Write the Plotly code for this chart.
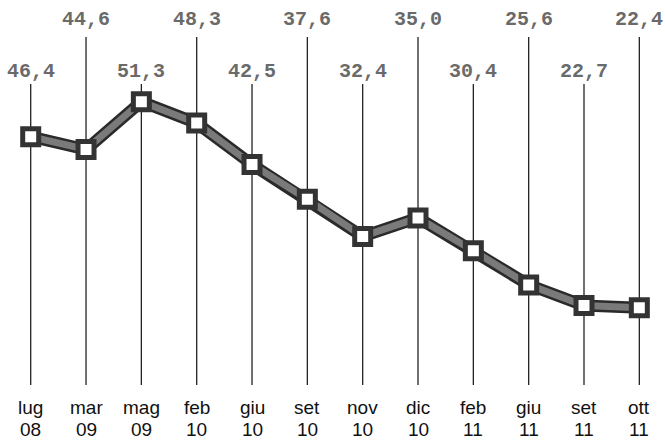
import plotly.graph_objects as go

# Data
months = ["lug", "mar", "mag", "feb", "giu", "set", "nov", "dic", "feb", "giu", "set", "ott"]
years = ["08", "09", "09", "10", "10", "10", "10", "10", "11", "11", "11", "11"]
values = [46.4, 44.6, 51.3, 48.3, 42.5, 37.6, 32.4, 35.0, 30.4, 25.6, 22.7, 22.4]

W, H = 665, 440
x_idx = list(range(len(values)))

fig = go.Figure()

# thick line: dark outline + grey core
fig.add_trace(go.Scatter(x=x_idx, y=values, mode="lines",
                         line=dict(color="#2a2a2a", width=12), hoverinfo="skip"))
fig.add_trace(go.Scatter(x=x_idx, y=values, mode="lines",
                         line=dict(color="#7a7a7a", width=7), hoverinfo="skip"))
# square markers
fig.add_trace(go.Scatter(x=x_idx, y=values, mode="markers",
                         marker=dict(symbol="square", size=16, color="white",
                                     line=dict(color="#333333", width=5)),
                         hoverinfo="skip"))

def py(px):
    return 1 - px / H

shapes = []
annotations = []
for i, v in enumerate(values):
    high = i % 2 == 1
    label_y = 19 if high else 71
    line_top = 37 if high else 84
    shapes.append(dict(type="line", xref="x", yref="paper", x0=i, x1=i,
                       y0=py(line_top), y1=py(385), layer="below",
                       line=dict(color="#222222", width=1.3)))
    annotations.append(dict(x=i, y=py(label_y), xref="x", yref="paper",
                            text=f"{v:.1f}".replace(".", ","), showarrow=False,
                            xanchor="center", yanchor="middle",
                            font=dict(family="Liberation Mono", size=20,
                                      color="#6a6a6a", weight="bold")))
    annotations.append(dict(x=i, y=py(407), xref="x", yref="paper",
                            text=months[i], showarrow=False,
                            xanchor="center", yanchor="middle",
                            font=dict(family="Liberation Sans", size=19, color="#111111")))
    annotations.append(dict(x=i, y=py(429), xref="x", yref="paper",
                            text=years[i], showarrow=False,
                            xanchor="center", yanchor="middle",
                            font=dict(family="Liberation Sans", size=19, color="#111111")))

fig.update_layout(
    width=W, height=H,
    margin=dict(l=0, r=0, t=0, b=0),
    paper_bgcolor="white", plot_bgcolor="white",
    showlegend=False,
    xaxis=dict(range=[-0.5548, 11.464], visible=False, fixedrange=True),
    yaxis=dict(range=[3.84, 65.57], visible=False, fixedrange=True),
    shapes=shapes, annotations=annotations,
)

fig.write_html("out.html")
